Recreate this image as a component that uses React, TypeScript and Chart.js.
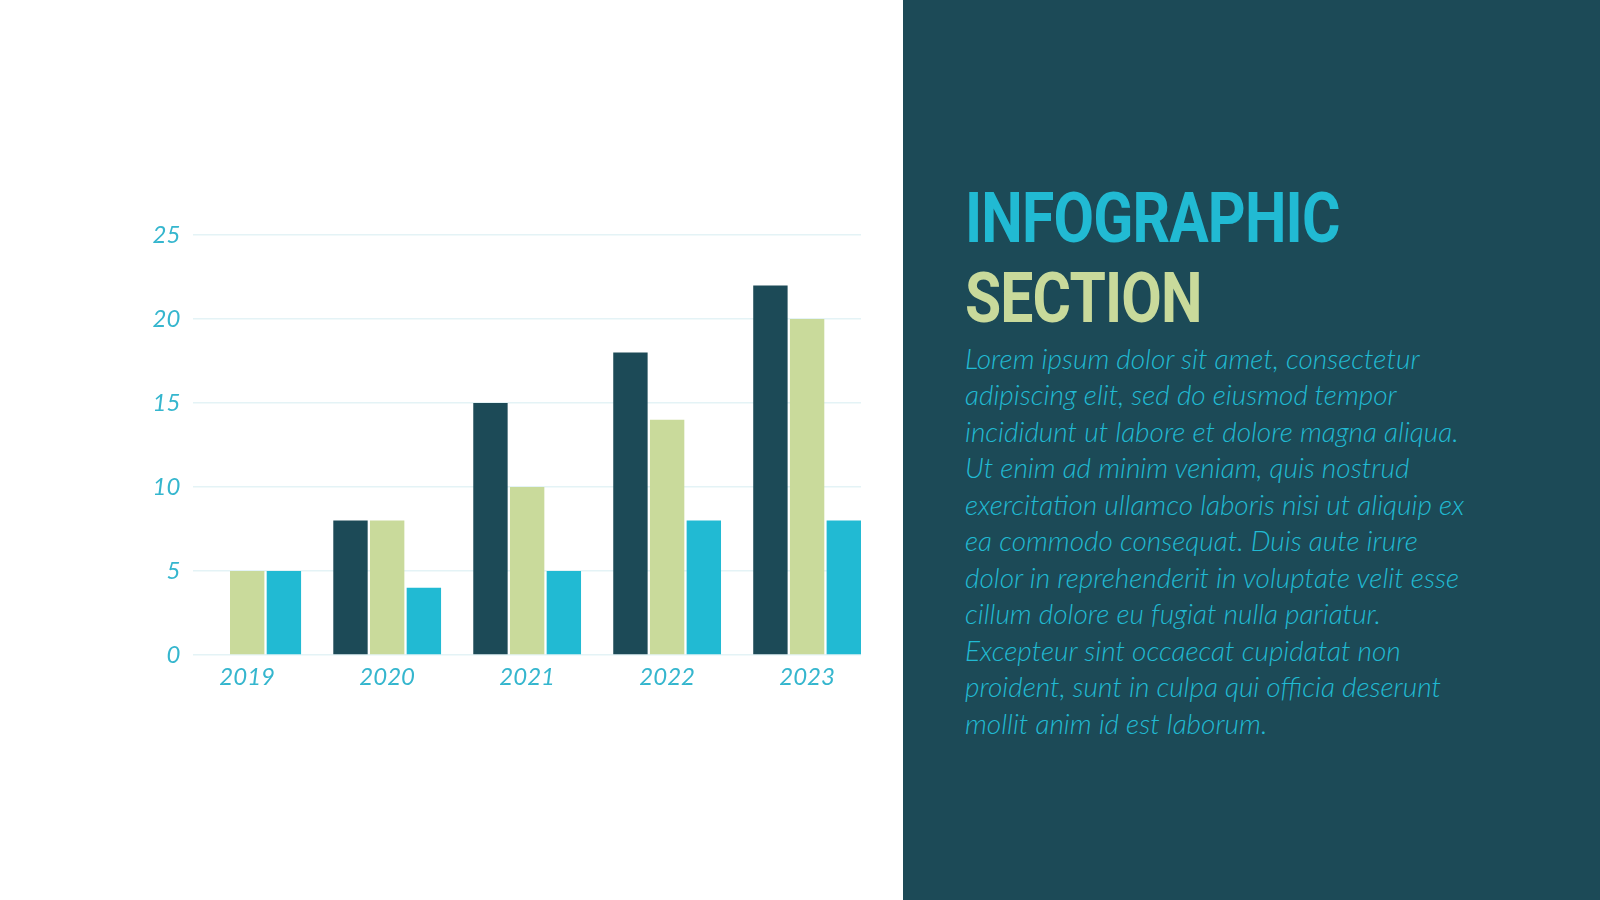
import React, { useEffect, useRef } from "react";
import { Chart, registerables } from "chart.js";

Chart.register(...registerables);

// ---- data ----
const categories = ["2019", "2020", "2021", "2022", "2023"];
const seriesDark = [0, 8, 15, 18, 22];
const seriesGreen = [5, 8, 10, 14, 20];
const seriesCyan = [5, 4, 5, 8, 8];
const yMax = 25;
const yStep = 5;

const titleLine1 = "INFOGRAPHIC";
const titleLine2 = "SECTION";
const bodyLines = [
  "Lorem ipsum dolor sit amet, consectetur",
  "adipiscing elit, sed do eiusmod tempor",
  "incididunt ut labore et dolore magna aliqua.",
  "Ut enim ad minim veniam, quis nostrud",
  "exercitation ullamco laboris nisi ut aliquip ex",
  "ea commodo consequat. Duis aute irure",
  "dolor in reprehenderit in voluptate velit esse",
  "cillum dolore eu fugiat nulla pariatur.",
  "Excepteur sint occaecat cupidatat non",
  "proident, sunt in culpa qui officia deserunt",
  "mollit anim id est laborum.",
];

const DARK = "#1C4A57";
const GREEN = "#C9DA9B";
const CYAN = "#21BAD3";
const TICK = "#35B6CE";
const GRID = "#E4F3F6";

function ChartPanel() {
  const ref = useRef<HTMLCanvasElement | null>(null);
  useEffect(() => {
    if (!ref.current) return;
    const toPts = (arr: number[]) => arr.map((v, i) => ({ x: i, y: v }));
    const chart = new Chart(ref.current, {
      type: "bar",
      data: {
        datasets: [
          { label: "A", data: toPts(seriesDark), backgroundColor: DARK },
          { label: "B", data: toPts(seriesGreen), backgroundColor: GREEN },
          { label: "C", data: toPts(seriesCyan), backgroundColor: CYAN },
        ],
      },
      options: {
        animation: false,
        responsive: false,
        maintainAspectRatio: false,
        devicePixelRatio: 1,
        categoryPercentage: 0.7864,
        barPercentage: 0.937,
        layout: { padding: { left: 0, top: 235, right: 42, bottom: 205 } },
        plugins: { legend: { display: false }, tooltip: { enabled: false } },
        scales: {
          x: {
            type: "linear",
            offset: false,
            min: -0.385,
            max: categories.length - 1 + 0.385,
            grid: { display: false, drawTicks: false, offset: false },
            border: { display: false },
            afterFit: (s: any) => {
              s.height = 40;
            },
            ticks: {
              stepSize: 1,
              includeBounds: false,
              autoSkip: false,
              maxRotation: 0,
              padding: 8,
              color: TICK,
              font: { family: "Lato", size: 24, style: "italic", weight: "400" },
              callback: (v: any) =>
                Number.isInteger(v) && categories[v] !== undefined ? categories[v] : "",
            },
          },
          y: {
            min: 0,
            max: yMax,
            grid: { color: GRID, lineWidth: 1.5, drawTicks: false },
            border: { display: false },
            afterFit: (s: any) => {
              s.width = 193.3;
            },
            ticks: {
              stepSize: yStep,
              padding: 13,
              color: TICK,
              font: { family: "Lato", size: 24, style: "italic", weight: "400" },
            },
          },
        },
      } as any,
    });
    return () => chart.destroy();
  }, []);
  return (
    <div style={{ position: "absolute", left: 0, top: 0, width: 903, height: 900 }}>
      <canvas ref={ref} width={903} height={900} style={{ width: 903, height: 900 }} />
    </div>
  );
}

export default function App() {
  return (
    <div
      style={{
        position: "fixed",
        left: 0,
        top: 0,
        width: 1600,
        height: 900,
        background: "#FFFFFF",
        overflow: "hidden",
      }}
    >
      <ChartPanel />
      <div
        style={{
          position: "absolute",
          left: 903,
          top: 0,
          width: 697,
          height: 900,
          background: DARK,
        }}
      >
        <div
          style={{
            position: "absolute",
            left: 62,
            top: 178,
            fontFamily: "Roboto, sans-serif",
            fontWeight: 700,
            fontSize: 70,
            lineHeight: "80.3px",
            whiteSpace: "nowrap",
            transform: "scaleX(0.84)",
            transformOrigin: "0 0",
            letterSpacing: "-1px",
          }}
        >
          <div style={{ color: CYAN }}>{titleLine1}</div>
          <div style={{ color: GREEN }}>{titleLine2}</div>
        </div>
        <div
          style={{
            position: "absolute",
            left: 62,
            top: 339.5,
            fontFamily: "Lato, sans-serif",
            fontStyle: "italic",
            fontWeight: 300,
            fontSize: 28,
            lineHeight: "36.5px",
            color: CYAN,
            whiteSpace: "nowrap",
          }}
        >
          {bodyLines.map((l, i) => (
            <div key={i}>{l}</div>
          ))}
        </div>
      </div>
    </div>
  );
}
